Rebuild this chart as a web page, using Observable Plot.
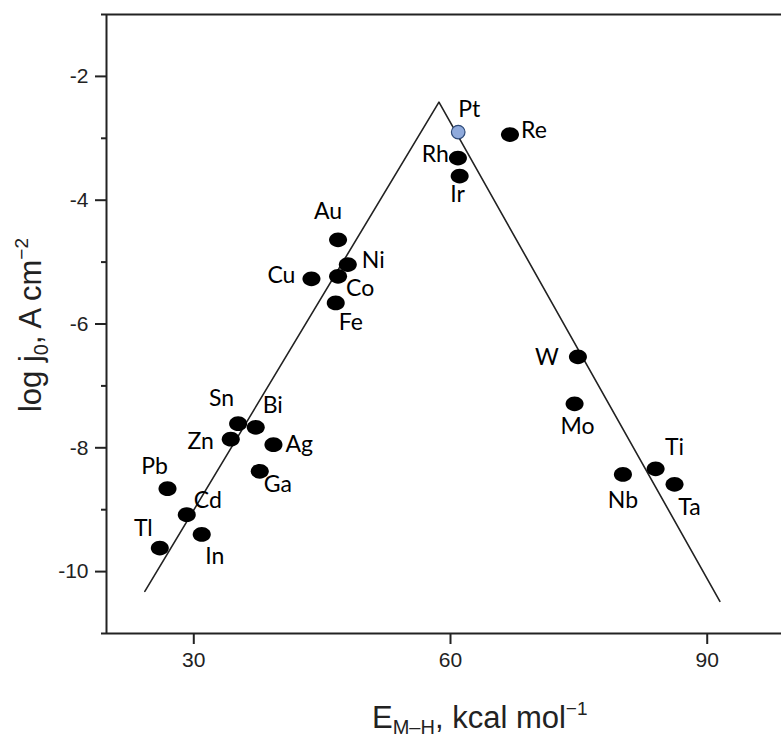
<!DOCTYPE html>
<html>
<head>
<meta charset="utf-8">
<script src="https://cdn.jsdelivr.net/npm/d3@7"></script>
<script src="https://cdn.jsdelivr.net/npm/@observablehq/plot@0.6"></script>
<style>
  html, body { margin: 0; padding: 0; background: #fff; }
  #chart { width: 781px; height: 740px; overflow: hidden; }
</style>
</head>
<body>
<div id="chart"></div>
<script>
// ---- data ----
const metals = ["Pt","Re","Rh","Ir","Au","Ni","Co","Cu","Fe","Sn","Bi","Zn","Ag","Ga","Pb","Cd","In","Tl","W","Mo","Ti","Nb","Ta"];
const energy = [60.9,66.95,60.87,61.07,46.86,48.0,46.86,43.75,46.59,35.18,37.24,34.32,39.31,37.71,26.93,29.18,30.93,26.03,74.89,74.5,83.97,80.15,86.18];
const logJ0  = [-2.90,-2.94,-3.32,-3.61,-4.64,-5.04,-5.23,-5.27,-5.66,-7.61,-7.67,-7.86,-7.95,-8.38,-8.66,-9.08,-9.40,-9.62,-6.53,-7.29,-8.34,-8.43,-8.59];
const highlighted = ["Pt"];

const volcanoX = [24.28, 58.65, 91.48];
const volcanoY = [-10.32, -2.415, -10.48];

const xDomain = [19.8, 98.68];
const yDomain = [-11, -1];
const xTicks = [30, 60, 90];
const yTicks = [-2, -4, -6, -8, -10];
const yMinorTicks = [-1, -3, -5, -7, -9, -11];

// label placement (pixel offsets from each point)
const labelPlace = {
  Pt: [11, -22, "middle"], Re: [11, -4, "start"], Rh: [-9, -3, "end"], Ir: [-2, 19, "middle"],
  Au: [-10, -28, "middle"], Ni: [14, -4, "start"], Co: [8, 12, "start"], Cu: [-16, -3, "end"],
  Fe: [15, 20, "middle"], Sn: [-4, -25, "end"], Bi: [7, -22, "start"], Zn: [-17, 2, "end"],
  Ag: [12, 0, "start"], Ga: [4, 13, "start"], Pb: [-13, -22, "middle"], Cd: [7, -14, "start"],
  In: [13, 22, "middle"], Tl: [-7, -19, "end"], W: [-19, 1, "end"], Mo: [3, 23, "middle"],
  Ti: [19, -21, "middle"], Nb: [0, 26, "middle"], Ta: [15, 23, "middle"]
};

// ---- tables ----
const points = metals.map((m, i) => ({metal: m, x: energy[i], y: logJ0[i]}));
const blackPts = points.filter(d => !highlighted.includes(d.metal));
const bluePts = points.filter(d => highlighted.includes(d.metal));
const volcano = volcanoX.map((x, i) => ({x, y: volcanoY[i]}));

const ellipse = {
  draw(ctx, size) {
    const r = Math.sqrt(size / Math.PI);
    const rx = r * 1.1, ry = r * 0.9, k = 0.5523;
    ctx.moveTo(rx, 0);
    ctx.bezierCurveTo(rx, ry * k, rx * k, ry, 0, ry);
    ctx.bezierCurveTo(-rx * k, ry, -rx, ry * k, -rx, 0);
    ctx.bezierCurveTo(-rx, -ry * k, -rx * k, -ry, 0, -ry);
    ctx.bezierCurveTo(rx * k, -ry, rx, -ry * k, rx, 0);
    ctx.closePath();
  }
};

const labelFont = "Lato, 'Open Sans', sans-serif";
const labelMarks = points.map(d => {
  const [dx, dy, anchor] = labelPlace[d.metal];
  return Plot.text([d], {x: "x", y: "y", text: "metal", dx, dy, textAnchor: anchor,
    fontSize: 23, fontFamily: labelFont, fill: "#000"});
});

const axisFont = "'Liberation Sans', Arial, sans-serif";

const chart = Plot.plot({
  width: 781,
  height: 740,
  marginLeft: 106,
  marginRight: 0,
  marginTop: 14,
  marginBottom: 107,
  style: {fontFamily: axisFont, background: "#fff", overflow: "visible"},
  x: {domain: xDomain, label: null},
  y: {domain: yDomain, label: null},
  marks: [
    Plot.axisY(yMinorTicks, {tickSize: 5, tickFormat: () => "", strokeWidth: 2, stroke: "#222", label: null}),
    Plot.axisY(yTicks, {tickSize: 11, tickPadding: 7, tickFormat: d => String(d),
      fontSize: 21, strokeWidth: 2, stroke: "#222", fill: "#222", label: null}),
    Plot.axisX(xTicks, {tickSize: 11, tickPadding: 8, tickFormat: d => String(d),
      fontSize: 21, strokeWidth: 2, stroke: "#222", fill: "#222", label: null}),
    Plot.ruleX([xDomain[0]], {stroke: "#222", strokeWidth: 2}),
    Plot.ruleY([yDomain[0], yDomain[1]], {stroke: "#222", strokeWidth: 2}),
    Plot.line(volcano, {x: "x", y: "y", stroke: "#222", strokeWidth: 1.6}),
    Plot.dot(blackPts, {x: "x", y: "y", r: 8.2, symbol: ellipse, fill: "#000", stroke: "none"}),
    Plot.dot(bluePts, {x: "x", y: "y", r: 6.8, fill: "#8faadc", stroke: "#2e4a78", strokeWidth: 1.2}),
    ...labelMarks
  ]
});

const svg = d3.select(chart);
// x axis title
const xt = svg.append("text")
  .attr("x", 372).attr("y", 728)
  .attr("text-anchor", "start")
  .attr("font-family", axisFont).attr("font-size", 31).attr("fill", "#222");
xt.append("tspan").text("E");
xt.append("tspan").attr("font-size", 20).attr("dy", 6).text("M\u2013H");
xt.append("tspan").attr("dy", -6).text(", kcal mol");
xt.append("tspan").attr("font-size", 19).attr("dy", -13).text("\u22121");

// y axis title
const yt = svg.append("text")
  .attr("transform", "translate(41,325) rotate(-90)")
  .attr("text-anchor", "middle")
  .attr("font-family", axisFont).attr("font-size", 31).attr("fill", "#222");
yt.append("tspan").text("log j");
yt.append("tspan").attr("font-size", 20).attr("dy", 7).text("0");
yt.append("tspan").attr("dy", -7).text(", A cm");
yt.append("tspan").attr("font-size", 19).attr("dy", -13).text("\u22122");

document.getElementById("chart").appendChild(chart);
</script>
</body>
</html>
